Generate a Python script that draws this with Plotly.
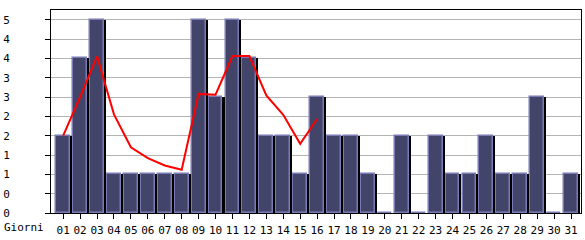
import plotly.graph_objects as go

days = [f"{d:02d}" for d in range(1, 32)]
values = [2, 4, 5, 1, 1, 1, 1, 1, 5, 3, 5, 4, 2, 2, 1, 3, 2, 2, 1, 0, 2, 0, 2, 1, 1, 2, 1, 1, 3, 0, 1]
trend_days = days[:16]
trend = [2.0, 3.0, 4.05, 2.55, 1.7, 1.42, 1.23, 1.12, 3.08, 3.06, 4.06, 4.06, 3.04, 2.54, 1.79, 2.43]
y_tickvals = [0, 0.5, 1, 1.5, 2, 2.5, 3, 3.5, 4, 4.5, 5]
y_ticktext = ["0", "0", "1", "1", "2", "2", "3", "3", "4", "4", "5"]
x_title = "Giorni"

xpos = list(range(1, len(days) + 1))
tpos = xpos[:len(trend_days)]

FONT = "DejaVu Sans Mono"
fig = go.Figure()
# main bar
fig.add_trace(go.Bar(
    x=xpos, y=values, width=0.82, offset=-0.41,
    marker=dict(color="#424569", line=dict(color="#7a7ab4", width=1.5)),
    hoverinfo="skip", showlegend=False,
))
# shadow on right side
fig.add_trace(go.Bar(
    x=xpos, y=values, width=0.12, offset=0.41,
    marker=dict(color="#000000", line=dict(width=0)),
    hoverinfo="skip", showlegend=False,
))
fig.add_trace(go.Scatter(
    x=tpos, y=trend, mode="lines",
    line=dict(color="#ff0000", width=2),
    hoverinfo="skip", showlegend=False,
))

fig.update_layout(
    width=585, height=240,
    margin=dict(l=50, r=3, t=10, b=20),
    paper_bgcolor="white", plot_bgcolor="white",
    barmode="overlay", bargap=0,
    font=dict(family=FONT, size=10, color="black"),
    annotations=[dict(text=x_title, xref="paper", yref="paper", x=-49/532, y=-14.5/210,
                      xanchor="left", yanchor="middle", showarrow=False,
                      font=dict(family=FONT, size=11, color="black"))],
)
fig.update_xaxes(
    range=[0.28, 31.59], tickvals=xpos, ticktext=days,
    ticks="outside", ticklen=5, tickcolor="black", tickwidth=1,
    showline=True, linecolor="black", linewidth=1, mirror=True,
    showgrid=False, zeroline=False, tickfont=dict(family=FONT, size=11),
    ticklabelstandoff=2,
)
fig.update_yaxes(
    range=[0, 5.25], tickvals=y_tickvals, ticktext=y_ticktext,
    ticks="outside", ticklen=5, tickcolor="black", tickwidth=1,
    showline=True, linecolor="black", linewidth=1, mirror=True,
    showgrid=True, gridcolor="#b4b4b4", gridwidth=1, zeroline=False,
    tickfont=dict(family=FONT, size=11), ticklabelstandoff=33,
)
fig.write_html("out.html")
